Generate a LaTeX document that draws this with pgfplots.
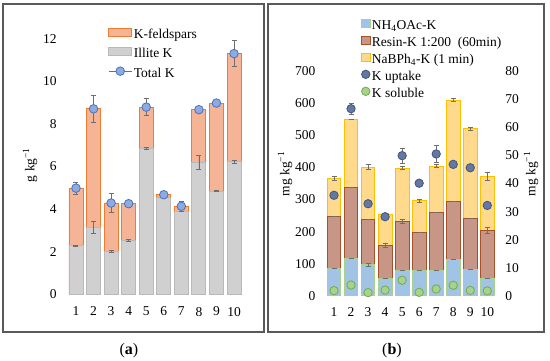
\documentclass[border=0pt]{standalone}
\usepackage{fontspec}
\setmainfont{Liberation Serif}
\usepackage{pgfplots}
\pgfplotsset{compat=1.18}
\usepackage{pgfplotstable}

\definecolor{framegray}{RGB}{89,89,89}
\definecolor{errgray}{RGB}{110,110,110}
\definecolor{orfill}{RGB}{246,180,150}
\definecolor{oredge}{RGB}{237,125,49}
\definecolor{gyfill}{RGB}{208,208,208}
\definecolor{gyedge}{RGB}{185,185,185}
\definecolor{ptfill}{RGB}{143,170,220}
\definecolor{ptedge}{RGB}{68,114,196}
\definecolor{blfill}{RGB}{160,195,230}
\definecolor{bledge}{RGB}{169,209,142}
\definecolor{brfill}{RGB}{200,150,135}
\definecolor{bredge}{RGB}{170,80,40}
\definecolor{yefill}{RGB}{255,217,140}
\definecolor{yeedge}{RGB}{255,192,0}
\definecolor{upfill}{RGB}{100,120,165}
\definecolor{upedge}{RGB}{68,84,120}
\definecolor{sofill}{RGB}{169,209,142}
\definecolor{soedge}{RGB}{112,173,71}

\pgfplotstableread{
x illite ilerr total toterr
1 2.29 0.03 4.99 0.28
2 3.15 0.30 8.71 0.62
3 2.03 0.05 4.29 0.45
4 2.53 0.05 4.26 0
5 6.85 0.04 8.79 0.39
6 4.57 0 4.68 0.12
7 3.90 0 4.14 0.25
8 6.19 0.33 8.67 0
9 4.85 0.03 8.98 0
10 6.23 0.06 11.30 0.60
}\dataA

\pgfplotstableread{
x nh4 nh4err resin resinerr nab naberr upt upterr sol
1 87 0 247 0 366 5 35.8 0 1.9
2 116 0 338 0 548 0 66.6 2.0 3.9
3 97 4 237 0 401 8 32.8 0 1.2
4 54 0 157 7 253 0 28.2 0 2.1
5 81 0 231 6 398 5 49.9 2.7 5.6
6 79 0 199 0 297 5 40.1 0 1.3
7 79 0 259 0 404 5 50.5 3.0 2.5
8 114 0 295 0 609 5 46.8 0 3.8
9 83 0 240 0 520 4 45.6 0 2.0
10 54 0 204 8 373 13 32.2 0 1.8
}\dataB

\pgfplotsset{
  myerr/.style={
    error bars/.cd, y dir=both, y explicit,
    error bar style={line width=0.8pt, color=errgray, solid},
    error mark options={rotate=90, mark size=2.5pt, line width=0.8pt, color=errgray}
  },
  common/.style={
    scale only axis,
    xmin=0.5, xmax=10.5,
    xtick={1,...,10},
    axis line style={draw=none},
    tick style={draw=none},
    /pgf/number format/assume math mode=true,
    tick label style={font=\fontsize{13.5}{15}\selectfont},
    legend style={draw=none, fill=none, inner sep=0pt,
      font=\fontsize{13.5}{15}\selectfont,
      nodes={text height=9.5pt, text depth=3pt, inner sep=1.5pt, anchor=west}},
    legend cell align=left,
  }
}

\begin{document}
\begin{tikzpicture}[font=\fontsize{13.5}{15}\selectfont]
\begin{scope}[x=1pt,y=1pt]
\useasboundingbox (0,0) rectangle (550,361);
\draw[framegray, line width=1.2pt] (3,29) rectangle (264,357);
\draw[framegray, line width=1.2pt] (268,29) rectangle (544,357);
\node[rotate=90] at (30,196) {g kg\textsuperscript{−1}};
\node[rotate=90] at (285,187) {mg kg\textsuperscript{−1}};
\node[rotate=90] at (531,187) {mg kg\textsuperscript{−1}};
\node[font=\fontsize{16}{18}\selectfont] at (129,10) {(\textbf{a})};
\node[font=\fontsize{16}{18}\selectfont] at (392,10) {(\textbf{b})};
\end{scope}

% ---------- panel (a)
\begin{axis}[common,
  at={(67.2pt,66.5pt)}, anchor=south west,
  width=175.6pt, height=255.8pt,
  ymin=0, ymax=12, ytick={0,2,...,12},
  yticklabel style={xshift=-7pt},
  xticklabel style={yshift=-9pt},
  legend style={at={(0.232,1.045)}, anchor=north west, row sep=4pt},
]
\addlegendimage{legend image code/.code={\draw[fill=orfill, draw=oredge, line width=0.9pt] (0pt,-1pt) rectangle (23pt,7pt);}}
\addlegendimage{legend image code/.code={\draw[fill=gyfill, draw=gyedge, line width=0.9pt] (0pt,-1pt) rectangle (23pt,7pt);}}
\addlegendimage{legend image code/.code={\draw[draw=ptedge, line width=1.2pt] (0pt,3pt) -- (23pt,3pt); \draw[fill=ptfill, draw=ptedge, line width=0.8pt] (11.5pt,3pt) circle (4.3pt);}}
\addplot[ybar, bar width=14pt, bar shift=0pt, fill=orfill, draw=oredge, line width=0.9pt, forget plot]
  table[x=x, y=total] {\dataA};
\addplot[ybar, bar width=14pt, bar shift=0pt, fill=gyfill, draw=gyedge, line width=0.9pt, forget plot, myerr]
  table[x=x, y=illite, y error=ilerr] {\dataA};
\addplot[only marks, mark=*, mark size=4.3pt, mark options={fill=ptfill, draw=ptedge, line width=0.8pt}, forget plot, myerr]
  table[x=x, y=total, y error=toterr] {\dataA};
\legend{K-feldspars, Illite K, Total K}
\end{axis}

% ---------- panel (b), left axis
\begin{axis}[common,
  at={(325.5pt,65pt)}, anchor=south west,
  width=170.3pt, height=225pt,
  ymin=0, ymax=700, ytick={0,100,...,700},
  yticklabel style={xshift=-6.5pt},
  xticklabel style={yshift=-8pt},
]
\addplot[ybar, bar width=13.7pt, bar shift=0pt, fill=yefill, draw=yeedge, line width=0.9pt, myerr]
  table[x=x, y=nab, y error=naberr] {\dataB};
\addplot[ybar, bar width=13.7pt, bar shift=0pt, fill=brfill, draw=bredge, line width=0.9pt, myerr]
  table[x=x, y=resin, y error=resinerr] {\dataB};
\addplot[ybar, bar width=13.7pt, bar shift=0pt, fill=blfill, draw=bledge, line width=0.9pt, myerr]
  table[x=x, y=nh4, y error=nh4err] {\dataB};
\end{axis}

% ---------- panel (b), right axis
\begin{axis}[common,
  at={(325.5pt,65pt)}, anchor=south west,
  width=170.3pt, height=225pt,
  ymin=0, ymax=80, ytick={0,10,...,80},
  axis y line*=right,
  axis x line=none,
  yticklabel style={xshift=6pt},
  legend style={at={(0.208,1.235)}, anchor=north west, row sep=1.5pt},
]
\addlegendimage{legend image code/.code={\draw[fill=blfill, draw=bledge, line width=0.8pt] (0pt,-1.5pt) rectangle (8.5pt,7pt);}}
\addlegendimage{legend image code/.code={\draw[fill=brfill, draw=bredge, line width=0.8pt] (0pt,-1.5pt) rectangle (8.5pt,7pt);}}
\addlegendimage{legend image code/.code={\draw[fill=yefill, draw=yeedge, line width=0.8pt] (0pt,-1.5pt) rectangle (8.5pt,7pt);}}
\addlegendimage{legend image code/.code={\draw[fill=upfill, draw=upedge, line width=0.8pt] (4.25pt,2.75pt) circle (4.2pt);}}
\addlegendimage{legend image code/.code={\draw[fill=sofill, draw=soedge, line width=0.8pt] (4.25pt,2.75pt) circle (4.2pt);}}
\addplot[only marks, mark=*, mark size=4.2pt, mark options={fill=upfill, draw=upedge, line width=0.8pt}, forget plot, myerr]
  table[x=x, y=upt, y error=upterr] {\dataB};
\addplot[only marks, mark=*, mark size=4.2pt, mark options={fill=sofill, draw=soedge, line width=0.8pt}, forget plot]
  table[x=x, y=sol] {\dataB};
\legend{NH\textsubscript{4}OAc-K, Resin-K 1:200\ \ (60min), NaBPh\textsubscript{4}-K (1 min), K uptake, K soluble}
\end{axis}
\end{tikzpicture}
\end{document}
